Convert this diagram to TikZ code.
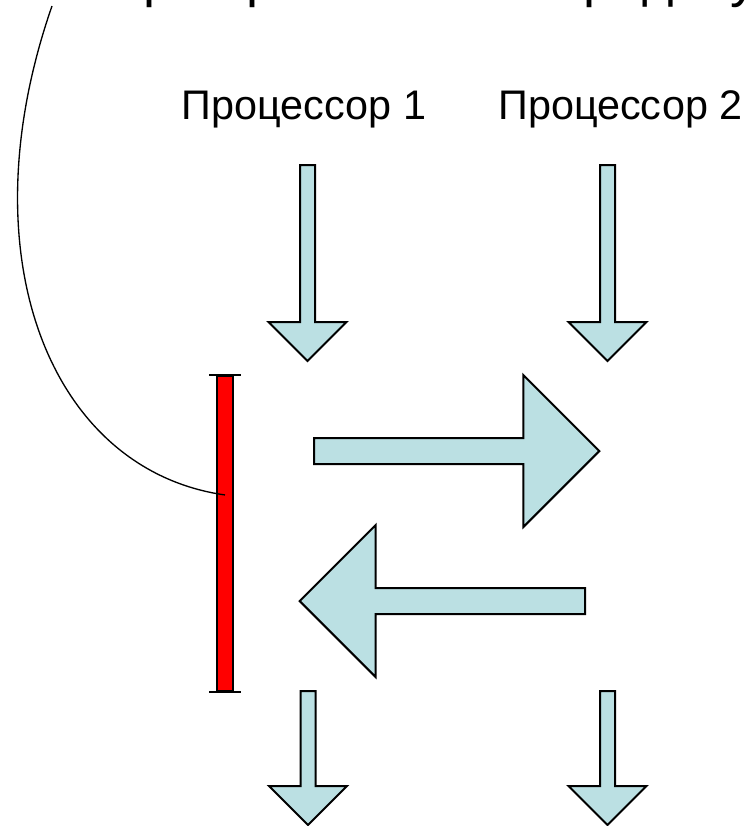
\documentclass[tikz,border=0pt]{standalone}
\usepackage{fontspec}
\setmainfont{Liberation Sans}
\usetikzlibrary{shapes.arrows,positioning}
\definecolor{pale}{RGB}{187,224,227}
\tikzset{
    flow/.style={
    single arrow,draw=black,fill=pale,line width=1.5pt,single arrow tip angle=90,inner sep=0pt,outer sep=0pt,anchor=tail
    },
    slim/.style={
    flow,minimum width=57pt,inner ysep=4.875pt,single arrow head extend=23.625pt,rotate=-90
    },
    fat/.style={
    flow,minimum width=112.5pt,inner ysep=9pt,single arrow head extend=47.25pt,minimum height=214pt
    },
    barbox/.style={
    rectangle,draw=black,fill=red,line width=1.5pt,minimum width=12pt,minimum height=236.25pt,inner sep=0pt
    },
    tick/.style={
    line width=1.5pt
    },
    cpu/.style={
    font=\fontsize{31}{37}\selectfont,inner sep=0pt,anchor=base
    },
    heading/.style={
    font=\fontsize{40.5}{48}\selectfont,inner sep=0pt,anchor=base west
    },
}

\begin{document}
\begin{tikzpicture}[x=0.75pt,y=-0.75pt]
   \useasboundingbox (0,0) rectangle (752,826);
   \clip (0,0) rectangle (752,826);
   \node[heading] (head) at (21,-4) {Потери времени на передачу данных};
   \node[cpu] (cpu1) at (304,119) {Процессор 1};
   \node[cpu] (cpu2) at (620.5,119) {Процессор 2};
   % processor time lines
   \node[slim,minimum height=147pt] (in1) at (307.5,165) {};
   \node[slim,minimum height=147pt] (in2) at (607.5,165) {};
   \node[slim,minimum height=100.5pt] (out1) at (308,691) {};
   \node[slim,minimum height=100.5pt] (out2) at (607.5,691) {};
   % exchange
   \node[fat] (send) at (314,451) {};
   \node[fat,rotate=180] (back) at (585,601) {};
   % waiting interval
   \node[barbox] (wait) at (225,533.5) {};
   \draw[tick] ([xshift=-12pt]wait.north) -- ([xshift=12pt]wait.north);
   \draw[tick] ([xshift=-12pt]wait.south) -- ([xshift=12pt]wait.south);
   \coordinate (from) at (52,6);
   \draw[line width=1pt] (from) .. controls (-35,256) and (50,470) .. ([yshift=28.9pt]wait.center);
\end{tikzpicture}
\end{document}
